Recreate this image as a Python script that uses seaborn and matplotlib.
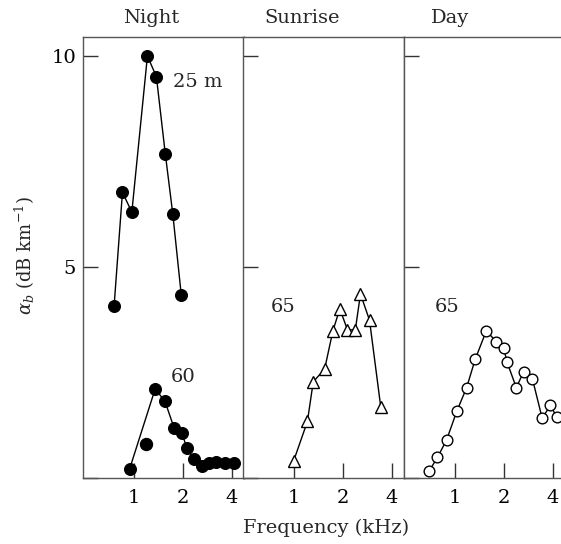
import matplotlib
matplotlib.use("Agg")
import matplotlib.pyplot as plt
import seaborn as sns
import numpy as np

# ---- data ----
night25_f = [0.76, 0.855, 0.976, 1.216, 1.38, 1.565, 1.74, 1.96]
night25_a = [4.08, 6.77, 6.30, 10.0, 9.51, 7.68, 6.25, 4.34]

night60_f = [0.945, 1.356, 1.557, 1.77, 1.98, 2.12, 2.36, 2.64, 2.89, 3.21, 3.62, 4.10]
night60_a = [0.21, 2.11, 1.82, 1.19, 1.07, 0.70, 0.44, 0.29, 0.35, 0.39, 0.35, 0.35]
night60_extra_f = [1.187]
night60_extra_a = [0.80]

sunrise_f = [1.0, 1.216, 1.32, 1.55, 1.74, 1.92, 2.14, 2.39, 2.57, 2.92, 3.42]
sunrise_a = [0.40, 1.34, 2.28, 2.58, 3.48, 4.01, 3.51, 3.51, 4.36, 3.74, 1.69]

day_f = [0.70, 0.786, 0.893, 1.034, 1.185, 1.34, 1.566, 1.80, 2.0, 2.10, 2.39, 2.65, 3.0, 3.44, 3.87, 4.22]
day_a = [0.17, 0.49, 0.90, 1.59, 2.14, 2.82, 3.49, 3.23, 3.07, 2.74, 2.14, 2.52, 2.35, 1.42, 1.72, 1.45]

panel_titles = ["Night", "Sunrise", "Day"]
x_ticks = [1, 2, 4]
x_ticklabels = ["1", "2", "4"]
y_ticks = [0, 5, 10]
y_ticklabels = ["", "5", "10"]

sns.set_style("white")
plt.rcParams["font.family"] = ["DejaVu Serif"]
plt.rcParams["mathtext.fontset"] = "dejavuserif"

W, H = 561, 544
fig = plt.figure(figsize=(W / 100, H / 100), dpi=100)

lefts = [83, 243, 404]
width = 161
bottom_px, top_px = 478, 37
axes = []
for lp in lefts:
    ax = fig.add_axes([lp / W, (H - bottom_px) / H, width / W, (bottom_px - top_px) / H])
    axes.append(ax)

fs = 14
for i, ax in enumerate(axes):
    ax.set_xscale("log", base=2)
    ax.set_xlim(0.49, 4.75)
    ax.set_ylim(0, 10.45)
    ax.set_xticks(x_ticks)
    ax.set_xticklabels(x_ticklabels)
    ax.xaxis.set_minor_locator(matplotlib.ticker.NullLocator())
    ax.set_yticks(y_ticks)
    if i == 0:
        ax.set_yticklabels(y_ticklabels)
    else:
        ax.set_yticklabels([])
    ax.tick_params(axis="both", which="major", direction="in", length=11, width=1.0,
                   color="#333333", labelsize=fs, labelcolor="black")
    ax.tick_params(axis="x", top=False, bottom=True, pad=8)
    ax.tick_params(axis="y", left=True, right=False, pad=5)
    for s in ax.spines.values():
        s.set_color("#555555")
        s.set_linewidth(1.0)

ms_fill = 8.6
# Night
ax = axes[0]
sns.lineplot(x=night25_f, y=night25_a, sort=False, estimator=None, ax=ax,
             color="black", linewidth=1.0, marker="o", markersize=ms_fill,
             markerfacecolor="black", markeredgecolor="black")
sns.lineplot(x=night60_f, y=night60_a, sort=False, estimator=None, ax=ax,
             color="black", linewidth=1.0, marker="o", markersize=ms_fill,
             markerfacecolor="black", markeredgecolor="black")
ax.plot(night60_extra_f, night60_extra_a, linestyle="none", marker="o",
        markersize=ms_fill, color="black")
ax.text(0.71, 0.899, "25 m", transform=ax.transAxes, fontsize=fs, ha="center", va="center")
ax.text(0.623, 0.23, "60", transform=ax.transAxes, fontsize=fs, ha="center", va="center")

# Sunrise
ax = axes[1]
sns.lineplot(x=sunrise_f, y=sunrise_a, sort=False, estimator=None, ax=ax,
             color="black", linewidth=1.0, marker="^", markersize=8.0,
             markerfacecolor="white", markeredgecolor="black", markeredgewidth=1.0)
ax.text(0.248, 0.388, "65", transform=ax.transAxes, fontsize=fs, ha="center", va="center")

# Day
ax = axes[2]
sns.lineplot(x=day_f, y=day_a, sort=False, estimator=None, ax=ax,
             color="black", linewidth=1.0, marker="o", markersize=7.7,
             markerfacecolor="white", markeredgecolor="black", markeredgewidth=1.0)
ax.text(0.267, 0.388, "65", transform=ax.transAxes, fontsize=fs, ha="center", va="center")

for ax in axes:
    ax.set_xlabel("")
    ax.set_ylabel("")
    if ax.get_legend() is not None:
        ax.get_legend().remove()

# Titles
for x_px, t in zip([151, 302, 450], panel_titles):
    fig.text(x_px / W, 1 - 18 / H, t, fontsize=fs, ha="center", va="center")

fig.text(326 / W, 1 - 528 / H, "Frequency (kHz)", fontsize=fs, ha="center", va="center")
fig.text(25 / W, 1 - 256 / H, r"$\alpha_b$ (dB km$^{-1}$)", fontsize=13,
         rotation=90, ha="center", va="center")

fig.savefig("out.png", dpi=100)
